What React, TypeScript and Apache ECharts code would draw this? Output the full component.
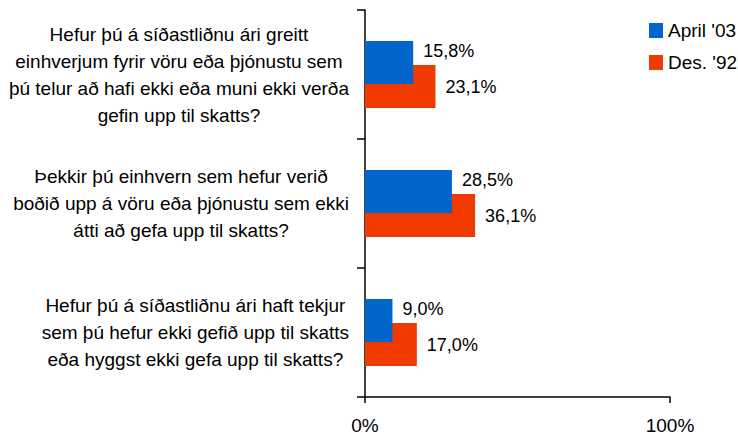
import React, { useEffect, useRef } from "react";
import * as echarts from "echarts";

const categories = [
  "Hefur þú á síðastliðnu ári greitt\neinhverjum fyrir vöru eða þjónustu sem\nþú telur að hafi ekki eða muni ekki verða\ngefin upp til skatts?",
  "Þekkir þú einhvern sem hefur verið\nboðið upp á vöru eða þjónustu sem ekki\nátti að gefa upp til skatts?",
  "Hefur þú á síðastliðnu ári haft tekjur\nsem þú hefur ekki gefið upp til skatts\neða hyggst ekki gefa upp til skatts?",
];
const seriesNames = ["April '03", "Des. '92"];
const april03 = [15.8, 28.5, 9.0];
const des92 = [23.1, 36.1, 17.0];
const xTicks = [0, 100];

const FONT = "'Liberation Sans', Arial, sans-serif";
const fmtPct = (v: number) => v.toFixed(1).replace(".", ",") + "%";

export default function App() {
  const ref = useRef<HTMLDivElement>(null);
  useEffect(() => {
    if (!ref.current) return;
    const chart = echarts.init(ref.current, null, { renderer: "svg" });
    chart.setOption({
      animation: false,
      textStyle: { fontFamily: FONT, color: "#000" },
      legend: {
        orient: "vertical",
        left: 644,
        top: 16,
        itemWidth: 14,
        itemHeight: 15,
        itemGap: 13,
        icon: "rect",
        data: seriesNames,
        textStyle: { fontSize: 19, fontFamily: FONT, color: "#000", lineHeight: 19 },
      },
      grid: { left: 365, right: 68, top: 10, bottom: 43, containLabel: false },
      xAxis: {
        type: "value",
        min: xTicks[0],
        max: xTicks[xTicks.length - 1],
        interval: 100,
        splitLine: { show: false },
        axisLine: { show: true, lineStyle: { color: "#000", width: 1.5 } },
        axisTick: { show: true, length: 6, lineStyle: { color: "#000", width: 1.5 } },
        axisLabel: {
          margin: 19,
          fontSize: 19,
          fontFamily: FONT,
          color: "#000",
          formatter: (v: number) => v + "%",
        },
      },
      yAxis: {
        type: "category",
        inverse: true,
        data: categories,
        axisLine: { show: true, lineStyle: { color: "#000", width: 1.5 } },
        axisTick: { show: true, length: 8, lineStyle: { color: "#000", width: 1.5 } },
        axisLabel: {
          margin: 16,
          interval: 0,
          formatter: (v: string) =>
            v
              .split("\n")
              .map((l) => `{a|${l}}`)
              .join("\n"),
          rich: {
            a: {
              align: "center",
              fontSize: 19,
              lineHeight: 27,
              fontFamily: FONT,
              color: "#000",
            },
          },
        },
      },
      series: [
        {
          name: seriesNames[0],
          type: "bar",
          data: april03,
          barWidth: 43,
          barGap: "-44%",
          z: 3,
          itemStyle: { color: "#0066CC" },
          label: {
            show: true,
            position: "right",
            distance: 10,
            offset: [0, -11],
            fontSize: 18,
            fontFamily: FONT,
            color: "#000",
            formatter: (p: any) => fmtPct(p.value),
          },
        },
        {
          name: seriesNames[1],
          type: "bar",
          data: des92,
          barWidth: 43,
          z: 2,
          itemStyle: { color: "#F03A00" },
          label: {
            show: true,
            position: "right",
            distance: 10,
            fontSize: 18,
            fontFamily: FONT,
            color: "#000",
            formatter: (p: any) => fmtPct(p.value),
          },
        },
      ],
    });
    return () => chart.dispose();
  }, []);
  return <div ref={ref} style={{ width: 738, height: 440, position: "absolute", left: 0, top: 0 }} />;
}
